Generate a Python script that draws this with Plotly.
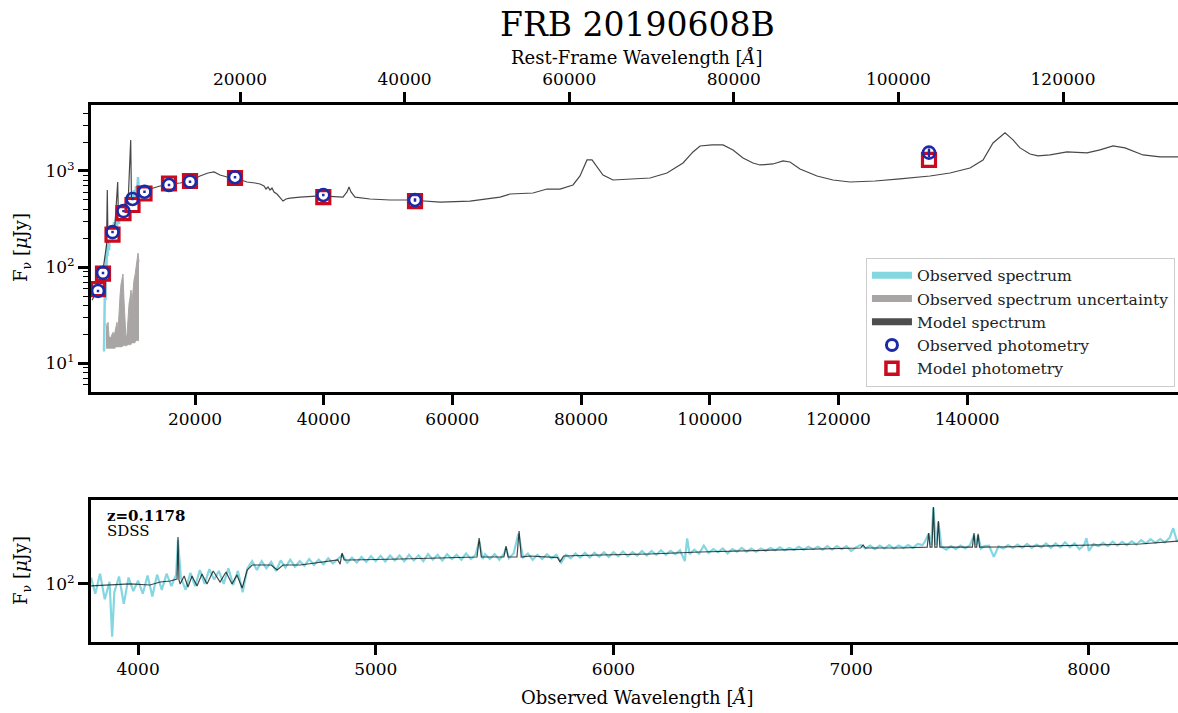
import plotly.graph_objects as go

# ---------------- DATA ----------------
# Upper panel: photometry (observed wavelength in Angstrom, flux in microJy)
phot_wave = [4926, 5703, 7180, 8889, 10288, 12152, 15960, 19223, 26216, 39938, 54188, 134064]
phot_obs = [56.6, 87.2, 231.5, 383, 511, 608, 715, 774, 860, 562, 499, 1552]
phot_obs_err = [1.7, 2.6, 7, 11, 15, 18, 21, 23, 26, 17, 20, 160]
phot_model = [59, 85.5, 218, 365, 443, 583, 741, 787, 845, 535, 487, 1303]

# Upper panel: model SED spectrum
sed_model_wave = [3994, 4615, 5237, 5703, 6014, 6247, 6371, 6480, 6791, 7102,
                  7568, 7988, 8112, 8500, 9122, 9588, 10008, 10132, 10676, 11453,
                  13007, 14561, 16115, 17669, 19223, 20777, 22020, 22953, 23885, 24973,
                  26216, 28081, 29324, 30101, 30723, 31034, 31345, 31655, 31966, 32277,
                  32744, 33210, 33676, 34142, 34764, 36318, 39426, 43000, 43622, 43933,
                  44244, 44865, 47196, 50304, 53412, 58074, 62736, 67398, 68952, 72527,
                  74702, 76722, 78743, 79830, 80918, 81695, 82472, 83404, 84958, 88066,
                  90708, 93350, 95837, 97391, 98479, 100344, 102053, 103607, 105161, 106715,
                  107803, 109823, 111377, 112465, 114019, 116661, 119147, 121789, 125674, 129559,
                  134221, 137329, 140437, 142458, 144012, 145877, 147120, 148208, 149762, 151006,
                  152870, 155512, 158620, 160640, 162661, 164525, 167323, 169965, 172762]
sed_model_flux = [45.3, 54.9, 64.9, 93.1, 143, 169, 634, 178, 200, 243,
                  281, 768, 301, 357, 412, 443, 2103, 464, 523, 590,
                  649, 698, 732, 750, 787, 887, 953, 977, 908, 866,
                  845, 768, 750, 732, 698, 649, 681, 634, 665, 605,
                  576, 535, 487, 511, 523, 535, 550, 535, 605, 681,
                  605, 535, 511, 499, 499, 475, 487, 535, 576, 590,
                  649, 649, 715, 887, 1302, 1302, 1101, 908, 806, 826,
                  845, 953, 1211, 1578, 1820, 1866, 1866, 1655, 1365, 1211,
                  1155, 1183, 1271, 1241, 1049, 887, 806, 768, 787, 826,
                  887, 953, 1075, 1302, 1957, 2489, 2104, 1738, 1503, 1433,
                  1468, 1578, 1540, 1655, 1820, 1738, 1468, 1400, 1400]

# Upper panel: observed spectrum as drawn on the SED panel
sed_obs_wave = [5859, 5936, 6014, 6092, 6169, 6247, 6325, 6403, 6480, 6636,
                6791, 6946, 7102, 7257, 7413, 7568, 7724, 7879, 8034, 8190,
                8345, 8500, 8656, 8811, 8967, 9122, 9277, 9433, 9588, 9744,
                9899, 10054, 10210, 10365, 10521, 10676, 10832, 10987, 11142, 11298,
                11453]
sed_obs_flux = [13.3, 51.1, 73.2, 45.3, 133, 102, 169, 130, 191, 150,
                226, 182, 267, 210, 294, 243, 324, 261, 348, 281,
                383, 316, 412, 340, 443, 365, 475, 392, 511, 412,
                550, 453, 590, 487, 634, 523, 698, 576, 866, 605,
                665]

# Upper panel: observed spectrum uncertainty band
unc_wave = [6169, 6325, 6480, 6636, 6791, 6946, 7102, 7257, 7413, 7568,
            7724, 7879, 8034, 8190, 8345, 8500, 8656, 8811, 8967, 9122,
            9277, 9433, 9588, 9744, 9899, 10054, 10210, 10365, 10521, 10676,
            10832, 10987, 11142, 11298]
unc_lo = [14.3, 14.3, 14.3, 14.3, 14.3, 14.3, 14.3, 14.3, 14.3, 14.3,
          14.8, 14.8, 14.8, 14.8, 14.8, 14.8, 14.8, 15.2, 15.2, 15.2,
          15.2, 15.2, 15.6, 15.6, 15.6, 15.6, 16.3, 16.3, 16.3, 16.3,
          17.2, 17.2, 17.2, 17.2]
unc_hi = [26.1, 21.0, 26.7, 19.1, 18.3, 18.7, 20.0, 21.0, 19.1, 22.0,
          24.4, 26.7, 21.0, 35.6, 50.0, 66.3, 80.6, 84.8, 45.4, 25.5,
          18.3, 20.0, 34.0, 41.2, 47.7, 57.8, 43.3, 60.6, 73.6, 82.5,
          97.6, 113, 140, 113]

# Lower panel: SDSS observed spectrum
obs_wave = [3802, 3820, 3840, 3860, 3880, 3891, 3900, 3920, 3940, 3960,
            3980, 4000, 4020, 4040, 4060, 4080, 4100, 4120, 4140, 4160,
            4168, 4180, 4200, 4220, 4240, 4260, 4280, 4300, 4320, 4340,
            4360, 4380, 4400, 4420, 4440, 4460, 4480, 4500, 4520, 4540,
            4560, 4580, 4600, 4620, 4640, 4660, 4680, 4700, 4720, 4740,
            4760, 4780, 4800, 4820, 4840, 4860, 4880, 4900, 4920, 4940,
            4960, 4980, 5000, 5020, 5040, 5060, 5080, 5100, 5120, 5140,
            5160, 5180, 5200, 5220, 5240, 5260, 5280, 5300, 5320, 5340,
            5360, 5380, 5400, 5420, 5435, 5450, 5460, 5480, 5500, 5520,
            5540, 5548, 5560, 5580, 5600, 5620, 5640, 5660, 5680, 5700,
            5720, 5740, 5760, 5780, 5800, 5820, 5840, 5860, 5880, 5900,
            5920, 5940, 5960, 5980, 6000, 6020, 6040, 6060, 6080, 6100,
            6120, 6140, 6160, 6180, 6200, 6220, 6240, 6260, 6280, 6300,
            6310, 6320, 6340, 6360, 6380, 6400, 6420, 6440, 6460, 6480,
            6500, 6520, 6540, 6560, 6580, 6600, 6620, 6640, 6660, 6680,
            6700, 6720, 6740, 6760, 6780, 6800, 6820, 6840, 6860, 6880,
            6900, 6920, 6940, 6960, 6980, 7000, 7020, 7040, 7060, 7080,
            7100, 7120, 7140, 7160, 7180, 7200, 7220, 7240, 7260, 7280,
            7300, 7310, 7326, 7336, 7346, 7356, 7367, 7380, 7400, 7420,
            7440, 7460, 7480, 7500, 7517, 7525, 7534, 7546, 7560, 7580,
            7600, 7620, 7640, 7660, 7680, 7700, 7720, 7740, 7760, 7780,
            7800, 7820, 7840, 7860, 7880, 7900, 7920, 7940, 7960, 7980,
            7990, 8000, 8020, 8040, 8060, 8080, 8100, 8120, 8140, 8160,
            8180, 8200, 8220, 8240, 8260, 8280, 8300, 8320, 8340, 8355,
            8370, 8380]
obs_flux = [112, 84, 120, 76, 104, 39, 86, 114, 70, 112,
            88, 106, 84, 116, 80, 118, 90, 120, 96, 118,
            220, 112, 90, 122, 96, 128, 100, 130, 108, 126,
            100, 132, 98, 126, 86, 132, 150, 128, 150, 132,
            148, 126, 152, 134, 154, 136, 150, 138, 156, 140,
            154, 142, 158, 144, 156, 168, 146, 160, 146, 162,
            148, 164, 150, 165, 149, 166, 152, 166, 150, 168,
            152, 166, 150, 170, 154, 168, 152, 170, 156, 168,
            154, 172, 156, 168, 215, 156, 170, 156, 170, 154,
            172, 190, 158, 172, 245, 160, 172, 154, 168, 156,
            170, 158, 168, 146, 168, 158, 172, 160, 174, 160,
            174, 162, 176, 162, 176, 164, 178, 164, 176, 166,
            180, 166, 180, 168, 182, 168, 180, 170, 182, 150,
            225, 170, 184, 172, 198, 174, 186, 176, 188, 172,
            186, 178, 190, 178, 188, 178, 188, 180, 190, 182,
            192, 182, 190, 184, 194, 184, 194, 186, 194, 184,
            196, 184, 196, 186, 196, 180, 192, 200, 188, 198,
            186, 198, 188, 200, 188, 198, 190, 200, 190, 204,
            200, 212, 245, 200, 390, 200, 300, 194, 184, 196,
            186, 198, 188, 200, 240, 200, 238, 188, 196, 198,
            162, 196, 188, 200, 190, 202, 190, 204, 190, 202,
            192, 206, 190, 206, 192, 210, 192, 206, 186, 200,
            226, 180, 204, 196, 208, 196, 212, 198, 212, 200,
            214, 202, 218, 206, 222, 208, 222, 210, 228, 270,
            216, 220]

# Lower panel: model spectrum
mod_wave = [3802, 3882, 3966, 4050, 4093, 4135, 4160, 4164, 4168, 4172,
            4177, 4194, 4210, 4227, 4248, 4269, 4290, 4316, 4345, 4370,
            4395, 4416, 4438, 4459, 4480, 4560, 4585, 4610, 4682, 4800,
            4841, 4850, 4858, 4867, 4892, 5102, 5300, 5426, 5435, 5444,
            5539, 5548, 5557, 5594, 5603, 5612, 5649, 5765, 5775, 5790,
            5944, 6154, 6364, 6575, 6785, 6995, 7040, 7050, 7060, 7206,
            7290, 7320, 7326, 7332, 7340, 7346, 7352, 7361, 7367, 7373,
            7510, 7517, 7521, 7528, 7534, 7540, 7626, 7837, 8047, 8215,
            8380]
mod_flux = [96.4, 98.1, 99.9, 98.1, 103.5, 105.3, 109.2, 109, 231, 108,
            99.9, 115.2, 94.6, 115.2, 96.4, 119.4, 99.9, 125.9, 103.5, 123.7,
            99.9, 117.3, 93.0, 128.2, 140.1, 140.1, 128.2, 140.1, 140.1, 150.5,
            153.2, 142, 173.6, 153.2, 153.2, 156.0, 158.7, 161.6, 226.8, 161.6,
            161.6, 196.6, 161.6, 161.6, 257.0, 161.6, 164.5, 160, 148, 164.5,
            167.5, 170.5, 176.7, 181, 186.4, 189.7, 189.7, 200.2, 189.7, 189.7,
            193.1, 193, 248, 193, 193, 394, 193, 193, 307, 193,
            193, 248, 193, 193, 244, 193, 193.1, 196.6, 200.2, 203.8,
            215]

upper_xticks = [20000, 40000, 60000, 80000, 100000, 120000, 140000]
rest_xticks = [20000, 40000, 60000, 80000, 100000, 120000]
lower_xticks = [4000, 5000, 6000, 7000, 8000]
upper_yticks = [10, 100, 1000]
upper_yticktext = ["10<sup>1</sup>", "10<sup>2</sup>", "10<sup>3</sup>"]
lower_yticks = [100]
lower_yticktext = ["10<sup>2</sup>"]
legend_labels = ["Observed spectrum", "Observed spectrum uncertainty", "Model spectrum",
                 "Observed photometry", "Model photometry"]

# ---------------- STYLE ----------------
SERIF = "DejaVu Serif"
CYAN = "#84d7e0"
GRAY = "#a9a5a5"
MODEL = "rgba(0,0,0,0.72)"
BLUE = "#1b2aa6"
RED = "#cc0a1e"

fig = go.Figure()

# Upper panel traces
fig.add_trace(go.Scatter(x=unc_wave, y=unc_lo, mode="lines", line=dict(width=0.5, color=GRAY),
                         showlegend=False, hoverinfo="skip", xaxis="x", yaxis="y"))
fig.add_trace(go.Scatter(x=unc_wave, y=unc_hi, mode="lines", line=dict(width=1, color=GRAY),
                         fill="tonexty", fillcolor=GRAY, showlegend=False, hoverinfo="skip",
                         xaxis="x", yaxis="y"))
fig.add_trace(go.Scatter(x=sed_obs_wave, y=sed_obs_flux, mode="lines",
                         line=dict(width=2.5, color=CYAN), showlegend=False, xaxis="x", yaxis="y"))
fig.add_trace(go.Scatter(x=sed_model_wave, y=sed_model_flux, mode="lines",
                         line=dict(width=1.2, color=MODEL), showlegend=False, xaxis="x", yaxis="y"))
fig.add_trace(go.Scatter(x=phot_wave, y=phot_model, mode="markers",
                         marker=dict(symbol="square", size=13, color="white",
                                     line=dict(color=RED, width=3.2)),
                         showlegend=False, xaxis="x", yaxis="y"))
fig.add_trace(go.Scatter(x=phot_wave, y=phot_obs, mode="markers",
                         marker=dict(symbol="circle-open", size=12, color=BLUE,
                                     line=dict(width=2.6, color=BLUE)),
                         error_y=dict(type="data", array=phot_obs_err, thickness=2.5, width=0, color=BLUE),
                         showlegend=False, xaxis="x", yaxis="y"))
# anchor trace for the rest-frame axis
fig.add_trace(go.Scatter(x=[rest_xticks[0]], y=[None], mode="markers", showlegend=False,
                         hoverinfo="skip", xaxis="x2", yaxis="y"))

# Lower panel traces
fig.add_trace(go.Scatter(x=obs_wave, y=obs_flux, mode="lines", line=dict(width=2.2, color=CYAN),
                         showlegend=False, xaxis="x3", yaxis="y3"))
fig.add_trace(go.Scatter(x=mod_wave, y=mod_flux, mode="lines", line=dict(width=1.2, color=MODEL),
                         showlegend=False, xaxis="x3", yaxis="y3"))

# Legend entries
leg_styles = [
    dict(mode="lines", line=dict(width=7, color=CYAN)),
    dict(mode="lines", line=dict(width=7, color=GRAY)),
    dict(mode="lines", line=dict(width=7, color="#4d4d4d")),
    dict(mode="markers", marker=dict(symbol="circle-open", size=11, color=BLUE, line=dict(width=3, color=BLUE))),
    dict(mode="markers", marker=dict(symbol="square", size=12, color="white", line=dict(width=3.5, color=RED))),
]
for i, (lab, st) in enumerate(zip(legend_labels, leg_styles)):
    fig.add_trace(go.Scatter(x=[None], y=[None], name=lab, showlegend=True, legendgroup=f"g{i}",
                             xaxis="x", yaxis="y", **st))

axis_common = dict(showline=True, linewidth=3, linecolor="black", ticks="outside", ticklen=10,
                   tickwidth=3, tickcolor="black", showgrid=False, zeroline=False,
                   tickfont=dict(family=SERIF, size=17, color="black"))

up_bottom = (642 - 391.7) / 537
low_top = (642 - 500) / 537

fig.update_layout(
    width=1178, height=713,
    paper_bgcolor="white", plot_bgcolor="white",
    margin=dict(l=91, r=0, t=105, b=71, autoexpand=False),
    font=dict(family=SERIF, size=17, color="black"),
    showlegend=True,
    legend=dict(x=0.9972, xanchor="right", y=0.716, yanchor="top", bgcolor="white",
                bordercolor="#cccccc", borderwidth=1, font=dict(family=SERIF, size=15.6, color="#222222"),
                itemwidth=40, tracegroupgap=6, traceorder="normal"),
    xaxis=dict(domain=[0, 1], anchor="y", range=[3838, 172760], tickvals=upper_xticks,
               ticktext=[str(v) for v in upper_xticks], **axis_common),
    xaxis2=dict(overlaying="x", anchor="y", side="top", range=[1895, 133973], tickvals=rest_xticks,
                ticktext=[str(v) for v in rest_xticks], **axis_common),
    yaxis=dict(domain=[up_bottom, 1], anchor="x", type="log", range=[0.705, 3.686],
               tickvals=upper_yticks, ticktext=upper_yticktext,
               minor=dict(ticks="outside", ticklen=5, tickwidth=1.3, tickcolor="black",
                          tickvals=[6, 7, 8, 9, 20, 30, 40, 50, 60, 70, 80, 90,
                                    200, 300, 400, 500, 600, 700, 800, 900, 2000, 3000, 4000],
                          showgrid=False),
               **axis_common),
    xaxis3=dict(domain=[0, 1], anchor="y3", range=[3802, 8375], tickvals=lower_xticks,
                ticktext=[str(v) for v in lower_xticks], mirror=True, **axis_common),
    yaxis3=dict(domain=[0, low_top], anchor="x3", type="log", range=[1.55, 2.65],
                tickvals=lower_yticks, ticktext=lower_yticktext, **axis_common),
)

def px_to_paper_y(py):
    return (642 - py) / 537

def px_to_paper_x(px):
    return (px - 91) / 1087

annos = [
    dict(text="FRB 20190608B", x=px_to_paper_x(637), y=px_to_paper_y(24), font=dict(size=33)),
    dict(text="Rest-Frame Wavelength [<i>Å</i>]", x=px_to_paper_x(637), y=px_to_paper_y(57), font=dict(size=18)),
    dict(text="Observed Wavelength [<i>Å</i>]", x=px_to_paper_x(637), y=px_to_paper_y(697), font=dict(size=18)),
    dict(text="F<sub>ν</sub> [<i>μ</i>Jy]", x=px_to_paper_x(22), y=px_to_paper_y(248), font=dict(size=18), textangle=-90),
    dict(text="F<sub>ν</sub> [<i>μ</i>Jy]", x=px_to_paper_x(22), y=px_to_paper_y(571), font=dict(size=18), textangle=-90),
]
for a in annos:
    fig.add_annotation(xref="paper", yref="paper", showarrow=False, xanchor="center", yanchor="middle",
                       **{k: v for k, v in a.items() if k != "font"},
                       font=dict(family=SERIF, color="black", **a["font"]))

fig.add_annotation(xref="paper", yref="paper", showarrow=False, xanchor="left", yanchor="middle",
                   x=px_to_paper_x(105), y=px_to_paper_y(515.5), text="<b>z=0.1178</b>",
                   font=dict(family=SERIF, size=15, color="black"))
fig.add_annotation(xref="paper", yref="paper", showarrow=False, xanchor="left", yanchor="middle",
                   x=px_to_paper_x(105), y=px_to_paper_y(531), text="SDSS",
                   font=dict(family=SERIF, size=15, color="black"))

# remove the default page margin so the figure sits at the window's top-left corner
fig.write_html("out.html", config={"displayModeBar": False},
               post_script="document.body.style.margin='0';document.body.style.overflow='hidden';")
